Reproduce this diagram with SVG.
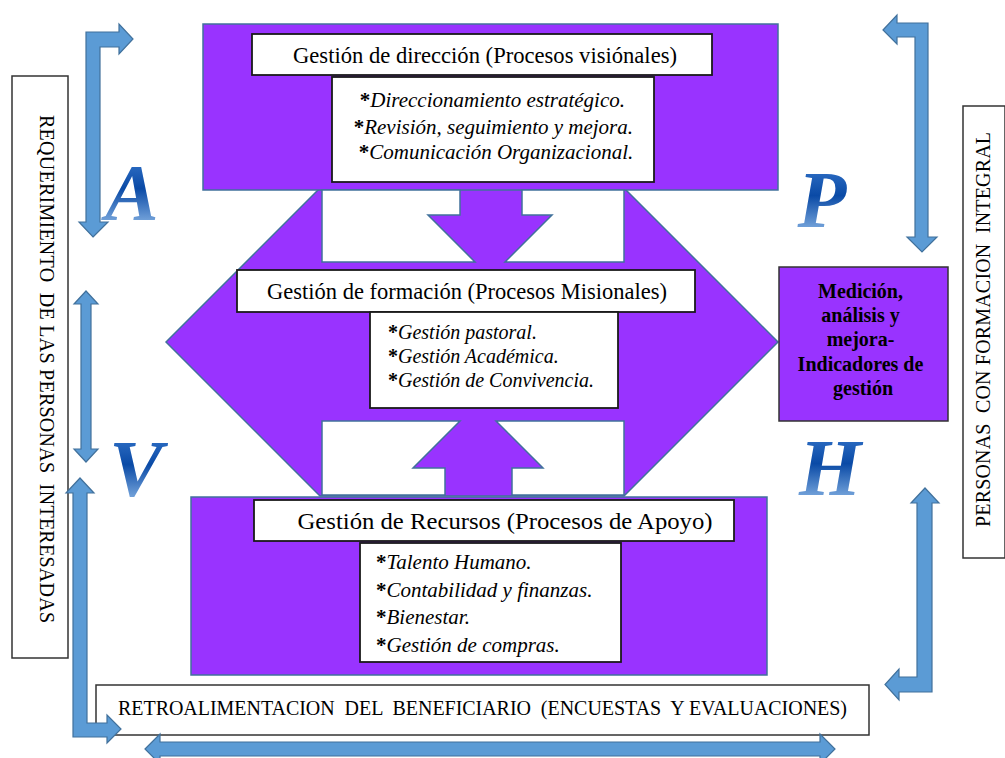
<svg xmlns="http://www.w3.org/2000/svg" width="1005" height="758" viewBox="0 0 1005 758">
  <defs>
    <linearGradient id="letterGrad" x1="0" y1="0" x2="0" y2="1">
      <stop offset="0" stop-color="#3f7fd2"/>
      <stop offset="0.45" stop-color="#0a4aa6"/>
      <stop offset="1" stop-color="#a6cdf3"/>
    </linearGradient>
    <style>
      .purple { fill: #9933ff; stroke: #41719c; stroke-width: 1.5; }
      .notch { fill: #ffffff; stroke: #41719c; stroke-width: 1.5; }
      .box { fill: #ffffff; stroke: #1a1a1a; stroke-width: 1.8; }
      .side { fill: #ffffff; stroke: #333333; stroke-width: 1.5; }
      .arrow { fill: #5b9bd5; stroke: #41719c; stroke-width: 1.2; }
      .title { font-family: "Liberation Serif", "Times New Roman", serif; font-size: 24px; fill: #000; text-anchor: middle; }
      .item { font-family: "Liberation Serif", "Times New Roman", serif; font-style: italic; fill: #000; }
      .star { font-style: normal; font-weight: bold; }
      .caps { font-family: "Liberation Serif", "Times New Roman", serif; font-size: 20px; fill: #000; white-space: pre; }
      .med { font-family: "Liberation Serif", "Times New Roman", serif; font-size: 20px; font-weight: bold; fill: #000; text-anchor: middle; }
      .letter { font-family: "Liberation Serif", "Times New Roman", serif; font-size: 80px; font-weight: bold; font-style: italic; fill: url(#letterGrad); text-anchor: middle; }
    </style>
  </defs>

  <rect width="1005" height="758" fill="#ffffff"/>

  <!-- central double-headed block behind the three process levels -->
  <g id="core">
    <polygon class="purple" points="166,342 320,188 624,188 778,342 624,496 320,496"/>
    <rect class="purple" x="203" y="24" width="575" height="166"/>
    <rect class="purple" x="191" y="497" width="576" height="178"/>
    <!-- white cut-outs that leave the down and up arrows between the levels -->
    <polygon class="notch" points="322,190 460,190 460,215 428,215 475,262 322,262"/>
    <polygon class="notch" points="522,190 624,190 624,262 505,262 552,215 522,215"/>
    <polygon class="notch" points="322,421 460,421 413,468 445,468 445,495 322,495"/>
    <polygon class="notch" points="496,421 624,421 624,495 512,495 512,468 543,468"/>
  </g>

  <!-- visional processes -->
  <g id="direccion">
    <rect class="box" x="252" y="34" width="460" height="41"/>
    <text class="title" x="485" y="63" textLength="384" lengthAdjust="spacingAndGlyphs">Gestión de dirección (Procesos visiónales)</text>
    <rect class="box" x="332" y="77" width="322" height="105"/>
    <text class="item" font-size="21" text-anchor="middle">
      <tspan x="495" y="107"><tspan class="star">*</tspan>Direccionamiento estratégico.</tspan>
      <tspan x="496" y="134"><tspan class="star">*</tspan>Revisión, seguimiento y mejora.</tspan>
      <tspan x="496" y="159"><tspan class="star">*</tspan>Comunicación Organizacional.</tspan>
    </text>
  </g>

  <!-- missional processes -->
  <g id="formacion">
    <rect class="box" x="237" y="270" width="458" height="42"/>
    <text class="title" x="467" y="299" textLength="400" lengthAdjust="spacingAndGlyphs">Gestión de formación (Procesos Misionales)</text>
    <rect class="box" x="370" y="312" width="248" height="96"/>
    <text class="item" font-size="20">
      <tspan x="388" y="339"><tspan class="star">*</tspan>Gestión pastoral.</tspan>
      <tspan x="388" y="363"><tspan class="star">*</tspan>Gestión Académica.</tspan>
      <tspan x="388" y="387"><tspan class="star">*</tspan>Gestión de Convivencia.</tspan>
    </text>
  </g>

  <!-- support processes -->
  <g id="recursos">
    <rect class="box" x="254" y="500" width="480" height="41"/>
    <text class="title" x="505" y="529" textLength="415" lengthAdjust="spacingAndGlyphs">Gestión de Recursos (Procesos de Apoyo)</text>
    <rect class="box" x="360" y="543" width="261" height="119"/>
    <text class="item" font-size="21">
      <tspan x="376" y="569"><tspan class="star">*</tspan>Talento Humano.</tspan>
      <tspan x="376" y="597"><tspan class="star">*</tspan>Contabilidad y finanzas.</tspan>
      <tspan x="376" y="624"><tspan class="star">*</tspan>Bienestar.</tspan>
      <tspan x="376" y="652"><tspan class="star">*</tspan>Gestión de compras.</tspan>
    </text>
  </g>

  <!-- measurement box -->
  <g id="medicion">
    <rect x="779" y="267" width="169" height="154" fill="#9933ff" stroke="#333333" stroke-width="1.5"/>
    <text class="med">
      <tspan x="863" y="298">Medición,</tspan>
      <tspan x="863" y="322">análisis y</tspan>
      <tspan x="863" y="346">mejora-</tspan>
      <tspan x="863" y="371">Indicadores de</tspan>
      <tspan x="863" y="395">gestión</tspan>
    </text>
  </g>

  <!-- stakeholder requirements (left) -->
  <g id="requerimiento">
    <rect class="side" x="12" y="76" width="56" height="582"/>
    <text class="caps" transform="translate(40,115) rotate(90)" textLength="508">REQUERIMIENTO  DE LAS PERSONAS  INTERESADAS</text>
  </g>

  <!-- people with integral formation (right) -->
  <g id="personas">
    <rect class="side" x="963" y="106" width="42" height="452"/>
    <text class="caps" transform="translate(990,527) rotate(-90)" textLength="395">PERSONAS  CON FORMACION  INTEGRAL</text>
  </g>

  <!-- beneficiary feedback -->
  <g id="retroalimentacion">
    <rect class="side" x="96" y="685" width="773" height="50"/>
    <text class="caps" x="118" y="715" textLength="729">RETROALIMENTACION  DEL  BENEFICIARIO  (ENCUESTAS  Y EVALUACIONES)</text>
  </g>

  <!-- PHVA cycle letters -->
  <g id="phva">
    <text class="letter" x="132" y="220">A</text>
    <text class="letter" x="822" y="227">P</text>
    <text class="letter" x="136" y="496">V</text>
    <text class="letter" x="830" y="495">H</text>
  </g>

  <!-- cycle arrows -->
  <g id="connectors">
    <path class="arrow" d="M93,237 L108,222 L100,222 L100,47 L119,47 L119,54 L133,39 L119,24 L119,32 L86,32 L86,222 L79,222 Z"/>
    <path class="arrow" d="M86,291 L98,304 L91,304 L91,449 L98,449 L86,462 L74,449 L81,449 L81,304 L74,304 Z"/>
    <path class="arrow" d="M80,478 L94,493 L87,493 L87,723 L107,723 L107,715 L121,729 L107,743 L107,737 L73,737 L73,493 L66,493 Z"/>
    <path class="arrow" d="M145,749 L160,734 L160,742 L820,742 L820,734 L835,749 L820,764 L820,756 L160,756 L160,764 Z"/>
    <path class="arrow" d="M883,30 L897,15 L897,23 L928,23 L928,237 L937,237 L922,252 L907,237 L915,237 L915,37 L897,37 L897,44 Z"/>
    <path class="arrow" d="M925,488 L939,503 L932,503 L932,692 L899,692 L899,700 L885,684.5 L899,669 L899,677 L917,677 L917,503 L911,503 Z"/>
  </g>
</svg>
